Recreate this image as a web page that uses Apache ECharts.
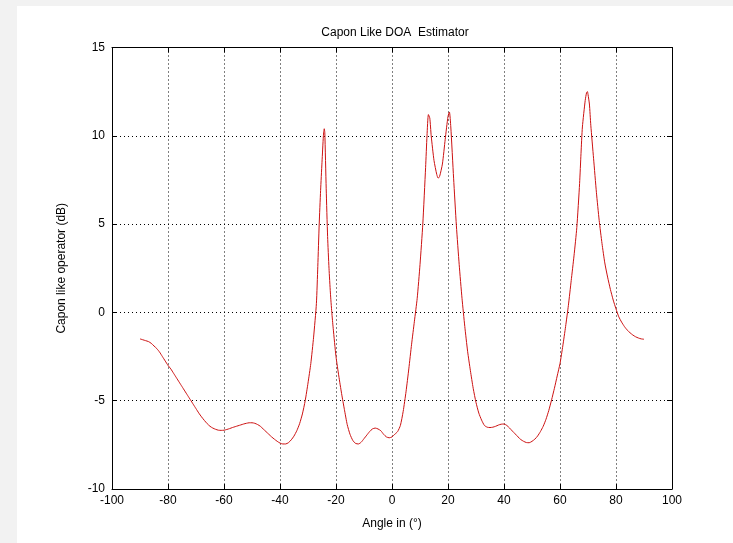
<!DOCTYPE html>
<html>
<head>
<meta charset="utf-8">
<script src="https://cdn.jsdelivr.net/npm/echarts@6/dist/echarts.min.js"></script>
<style>
  html, body { margin: 0; padding: 0; background: #f2f2f2; }
  #paper { position: absolute; left: 17px; top: 6px; right: 0; bottom: 0; background: #fff; }
  #main { position: absolute; left: 0; top: 0; width: 733px; height: 543px; }
</style>
</head>
<body>
<div id="paper"></div>
<div id="main"></div>
<script>
// angle (deg) and Capon-like output (dB)
var angles = [
  -90, -89, -88, -87, -86, -85, -84, -83, -82, -81,
  -80, -79, -78, -77, -76, -75, -74, -73, -72, -71,
  -70, -69, -68, -67, -66, -65, -64, -63, -62, -61,
  -60, -59, -58, -57, -56, -55, -54, -53, -52, -51,
  -50, -49, -48, -47, -46, -45, -44, -43, -42, -41,
  -40, -39, -38, -37, -36, -35, -34, -33, -32, -31,
  -30, -29, -28, -27, -26.5, -26, -25.5, -25, -24.5, -24.2,
  -24, -23.5, -23, -22.5, -22, -21.5, -21, -20, -19, -18,
  -17, -16, -15, -14, -13, -12, -11, -10, -9, -8,
  -7, -6, -5, -4, -3, -2, -1, 0, 1, 2,
  3, 4, 5, 6, 7, 8, 9, 10, 11, 12,
  12.5, 13, 13.5, 14, 15, 16, 16.5, 17, 18, 19,
  20, 20.5, 21, 22, 23, 24, 25, 26, 27, 28,
  29, 30, 31, 32, 33, 34, 35, 36, 37, 38,
  39, 40, 41, 42, 43, 44, 45, 46, 47, 48,
  49, 50, 51, 52, 53, 54, 55, 56, 57, 58,
  59, 60, 61, 62, 63, 64, 65, 66, 67, 67.5,
  68, 69, 69.5, 69.8, 70, 70.5, 71, 72, 73, 74,
  75, 76, 77, 78, 79, 80, 81, 82, 83, 84,
  85, 86, 87, 88, 89, 90
];
var caponDb = [
  -1.5, -1.55, -1.6, -1.65, -1.75, -1.9, -2.05, -2.25, -2.5, -2.75,
  -3.0, -3.2, -3.45, -3.7, -3.95, -4.2, -4.45, -4.7, -4.95, -5.2,
  -5.45, -5.7, -5.92, -6.12, -6.3, -6.45, -6.55, -6.62, -6.67, -6.68,
  -6.67, -6.63, -6.58, -6.52, -6.47, -6.42, -6.37, -6.32, -6.28, -6.25,
  -6.25, -6.28, -6.35, -6.45, -6.6, -6.75, -6.9, -7.05, -7.18, -7.3,
  -7.4, -7.45, -7.45, -7.38, -7.22, -7.0, -6.7, -6.3, -5.75, -5.0,
  -4.0, -2.9, -1.4, 0.5, 2.6, 5.0, 6.9, 8.5, 10.0, 10.4,
  10.2, 7.0, 4.3, 2.5, 1.1, 0.0, -0.9, -2.5, -3.6, -4.6,
  -5.5, -6.35, -6.9, -7.25, -7.42, -7.45, -7.35, -7.15, -6.95, -6.75,
  -6.6, -6.55, -6.6, -6.7, -6.9, -7.05, -7.1, -7.05, -6.9, -6.75,
  -6.4, -5.6, -4.5, -3.2, -1.8, -0.5, 0.8, 2.7, 5.0, 8.2,
  10.0, 11.2, 11.0, 10.0, 8.6, 7.8, 7.6, 7.7, 8.4, 9.8,
  11.1, 11.35, 10.5, 7.6, 4.9, 2.7, 0.8, -0.8, -2.2, -3.3,
  -4.3, -5.1, -5.7, -6.1, -6.4, -6.5, -6.52, -6.5, -6.45, -6.38,
  -6.33, -6.32, -6.4, -6.55, -6.72, -6.88, -7.05, -7.2, -7.3, -7.37,
  -7.38, -7.3, -7.18, -7.0, -6.75, -6.45, -6.05, -5.55, -4.95, -4.3,
  -3.6, -2.9, -1.9, -0.8, 0.4, 1.8, 3.2, 4.8, 7.3, 9.0,
  10.5, 12.0, 12.45, 12.5, 12.35, 11.8, 10.6, 8.7, 6.8, 5.2,
  3.9, 2.8, 2.0, 1.3, 0.7, 0.2, -0.25, -0.55, -0.8, -1.0,
  -1.15, -1.28, -1.38, -1.45, -1.5, -1.52
];

var chartTitle = 'Capon Like DOA  Estimator';
var xName = 'Angle in (°)';
var yName = 'Capon like operator (dB)';

var font = 'Liberation Sans, Arial, sans-serif';
var points = angles.map(function (a, i) { return [a, caponDb[i]]; });

var chart = echarts.init(document.getElementById('main'), null, { renderer: 'canvas' });

var gridLine = { show: true, lineStyle: { color: '#000', width: 1, type: [1, 3] } };
var axisLine = { show: true, onZero: false, lineStyle: { color: '#000', width: 1 } };
var tickIn = { show: true, inside: true, length: 5, lineStyle: { color: '#000' } };

chart.setOption({
  animation: false,
  backgroundColor: 'transparent',
  title: {
    text: chartTitle,
    left: 390, top: 22, textAlign: 'center',
    textStyle: { fontFamily: font, fontSize: 12, fontWeight: 'normal', color: '#000' }
  },
  grid: { left: 112, right: 61, top: 47.5, bottom: 54, containLabel: false },
  xAxis: [{
    type: 'value', min: -100, max: 100, interval: 20,
    position: 'bottom',
    name: xName, nameLocation: 'middle', nameGap: 29,
    nameTextStyle: { fontFamily: font, fontSize: 12, color: '#000' },
    axisLine: axisLine, axisTick: tickIn, splitLine: gridLine,
    axisLabel: { fontFamily: font, fontSize: 12, color: '#000', margin: 6 }
  }, {
    type: 'value', min: -100, max: 100, interval: 20,
    position: 'top',
    axisLine: axisLine, axisTick: tickIn, splitLine: { show: false },
    axisLabel: { show: false }
  }],
  yAxis: [{
    type: 'value', min: -10, max: 15, interval: 5,
    position: 'left',
    name: yName, nameLocation: 'middle', nameGap: 44, nameRotate: 90,
    nameTextStyle: { fontFamily: font, fontSize: 12, color: '#000' },
    axisLine: axisLine, axisTick: tickIn, splitLine: gridLine,
    axisLabel: { fontFamily: font, fontSize: 12, color: '#000', margin: 7 }
  }, {
    type: 'value', min: -10, max: 15, interval: 5,
    position: 'right',
    axisLine: axisLine, axisTick: tickIn, splitLine: { show: false },
    axisLabel: { show: false }
  }],
  series: [{
    type: 'line',
    data: points,
    xAxisIndex: 0, yAxisIndex: 0,
    showSymbol: false,
    smooth: 0.2,
    lineStyle: { color: '#cc1111', width: 1 }
  }]
});
</script>
</body>
</html>
